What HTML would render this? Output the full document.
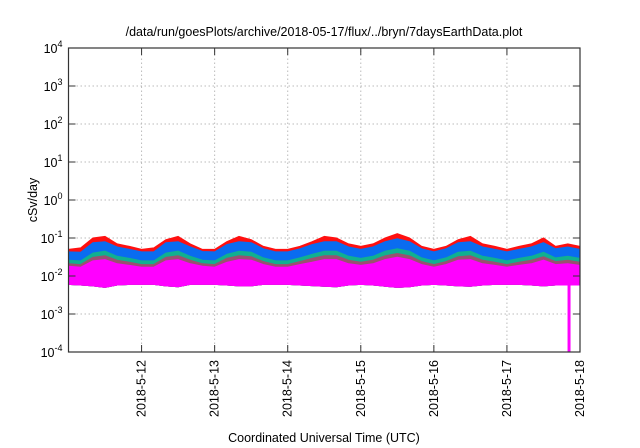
<!DOCTYPE html>
<html><head><meta charset="utf-8"><style>
body{margin:0;background:#fff}
svg{display:block;font-family:"Liberation Sans",sans-serif}
</style></head><body>
<svg id="chart" width="640" height="448" viewBox="0 0 640 448">
<text x="324" y="36" font-size="12.5" text-anchor="middle" fill="#000">/data/run/goesPlots/archive/2018-05-17/flux/../bryn/7daysEarthData.plot</text>
<g id="grid"></g>
<g id="series"></g>
<g id="axes"></g>
<text transform="translate(37,200) rotate(-90)" font-size="12.5" text-anchor="middle">cSv/day</text>
<text x="324" y="442" font-size="12.5" text-anchor="middle">Coordinated Universal Time (UTC)</text>
</svg>
<script>
const yExps=[-4,-3,-2,-1,0,1,2,3,4];
const xTickLabels=["2018-5-12","2018-5-13","2018-5-14","2018-5-15","2018-5-16","2018-5-17","2018-5-18"];
const xTickDays=[1,2,3,4,5,6,7];
// values every 4 hours from 2018-5-11 00:00 to 2018-5-18 00:00
const redTop=[0.05,0.055,0.1,0.11,0.07,0.06, 0.05,0.055,0.09,0.11,0.07,0.05, 0.05,0.08,0.11,0.09,0.06,0.05, 0.05,0.06,0.08,0.11,0.1,0.07, 0.06,0.07,0.1,0.13,0.1,0.06, 0.05,0.06,0.09,0.11,0.07,0.06, 0.05,0.06,0.07,0.1,0.06,0.07,0.06];
const blueTop=[0.043,0.042,0.075,0.08,0.058,0.05, 0.043,0.043,0.075,0.08,0.058,0.044, 0.043,0.067,0.08,0.075,0.052,0.043, 0.043,0.052,0.067,0.08,0.08,0.058, 0.05,0.058,0.08,0.095,0.08,0.052, 0.043,0.052,0.075,0.08,0.058,0.05, 0.043,0.05,0.058,0.075,0.052,0.058,0.05];
const tealTop=[0.026,0.025,0.04,0.045,0.033,0.029, 0.025,0.025,0.04,0.045,0.033,0.026, 0.025,0.037,0.045,0.042,0.03,0.025, 0.025,0.03,0.037,0.045,0.045,0.033, 0.029,0.033,0.045,0.052,0.045,0.03, 0.025,0.03,0.042,0.045,0.033,0.029, 0.025,0.029,0.033,0.042,0.03,0.033,0.029];
const brownTop=[0.021,0.02,0.031,0.034,0.026,0.023, 0.02,0.02,0.031,0.034,0.026,0.021, 0.02,0.029,0.034,0.032,0.024,0.02, 0.02,0.024,0.029,0.034,0.034,0.026, 0.023,0.026,0.034,0.039,0.034,0.024, 0.02,0.024,0.032,0.034,0.026,0.023, 0.02,0.023,0.026,0.032,0.024,0.026,0.023];
const magentaTop=[0.018,0.017,0.025,0.027,0.021,0.019, 0.017,0.017,0.025,0.027,0.021,0.018, 0.017,0.023,0.027,0.026,0.02,0.017, 0.017,0.02,0.023,0.027,0.027,0.021, 0.019,0.021,0.027,0.031,0.027,0.02, 0.017,0.02,0.026,0.027,0.021,0.019, 0.017,0.019,0.021,0.026,0.02,0.021,0.019];
const magentaBottom=[0.006,0.0058,0.0055,0.005,0.0058,0.006, 0.006,0.006,0.0055,0.0052,0.006,0.006, 0.006,0.0058,0.0055,0.0055,0.006,0.006, 0.006,0.0058,0.0056,0.0054,0.0052,0.0058, 0.006,0.0058,0.0054,0.005,0.0052,0.0058, 0.006,0.0058,0.0055,0.0054,0.0058,0.006, 0.006,0.006,0.0058,0.0055,0.0058,0.0058,0.0058];
const spikeDay=6.85, spikeValue=0.0001;
const X0=68.5,X1=580,Y0=352,Y1=48,DAYS=7;
const xs=d=>X0+(X1-X0)*d/DAYS;
const ys=v=>Y0-(Math.log10(v)+4)*(Y0-Y1)/8;
const NS="http://www.w3.org/2000/svg";
function mk(t,a,p){const e=document.createElementNS(NS,t);for(const k in a)e.setAttribute(k,a[k]);p.appendChild(e);return e;}
const grid=document.getElementById('grid'),axes=document.getElementById('axes'),ser=document.getElementById('series');
yExps.forEach(ex=>{const y=ys(Math.pow(10,ex));
 if(ex>-4&&ex<4){const g=mk('line',{x1:X0,x2:X1,y1:y,y2:y,stroke:'#bbb','stroke-dasharray':'1.5,2.5','stroke-width':1},grid);
 
 }
 mk('line',{x1:X0,x2:X0+7,y1:y,y2:y,stroke:'#333'},axes);
 mk('line',{x1:X1,x2:X1-7,y1:y,y2:y,stroke:'#333'},axes);
 const t=mk('text',{x:X0-6,y:y+5,'font-size':12.5,'text-anchor':'end'},axes);
 
 
 t.textContent='10';const s=mk('tspan',{dy:-6,'font-size':9},t);s.textContent=String(ex);
});
xTickDays.forEach((d,i)=>{const x=xs(d);
 if(d<DAYS){const g=mk('line',{x1:x,x2:x,y1:Y0,y2:Y1,stroke:'#bbb','stroke-dasharray':'1.5,2.5'},grid);
 
 }
 mk('line',{x1:x,x2:x,y1:Y0,y2:Y0-7,stroke:'#333'},axes);
 mk('line',{x1:x,x2:x,y1:Y1,y2:Y1+7,stroke:'#333'},axes);
 const t=mk('text',{transform:`translate(${x+4},${Y0+8}) rotate(-90)`,'font-size':12.5,'text-anchor':'end'},axes);
 
 
 t.textContent=xTickLabels[i];
});
const fr=mk('rect',{x:X0,y:Y1,width:X1-X0,height:Y0-Y1,fill:'none',stroke:'#333','stroke-width':1.2},axes);


function band(top,bot,color,name){
 const n=top.length;let pts=[];
 for(let i=0;i<n;i++)pts.push(xs(i*DAYS/(n-1)).toFixed(1)+','+ys(top[i]).toFixed(1));
 for(let i=n-1;i>=0;i--)pts.push(xs(i*DAYS/(n-1)).toFixed(1)+','+ys(bot[i]).toFixed(1));
 const p=mk('polygon',{points:pts.join(' '),fill:color,stroke:color,'stroke-width':1},ser);
 
 
}
band(redTop,magentaBottom,'#ff1010','series-red');
band(blueTop,magentaBottom,'#0a6cf0','series-blue');
band(tealTop,magentaBottom,'#10b090','series-teal');
band(brownTop,magentaBottom,'#9a5070','series-brown');
band(magentaTop,magentaBottom,'#ff00ff','series-magenta');
const sp=mk('line',{x1:xs(spikeDay),x2:xs(spikeDay),y1:ys(magentaBottom[41]),y2:ys(spikeValue),stroke:'#ff00ff','stroke-width':3},ser);


</script>
</body></html>
